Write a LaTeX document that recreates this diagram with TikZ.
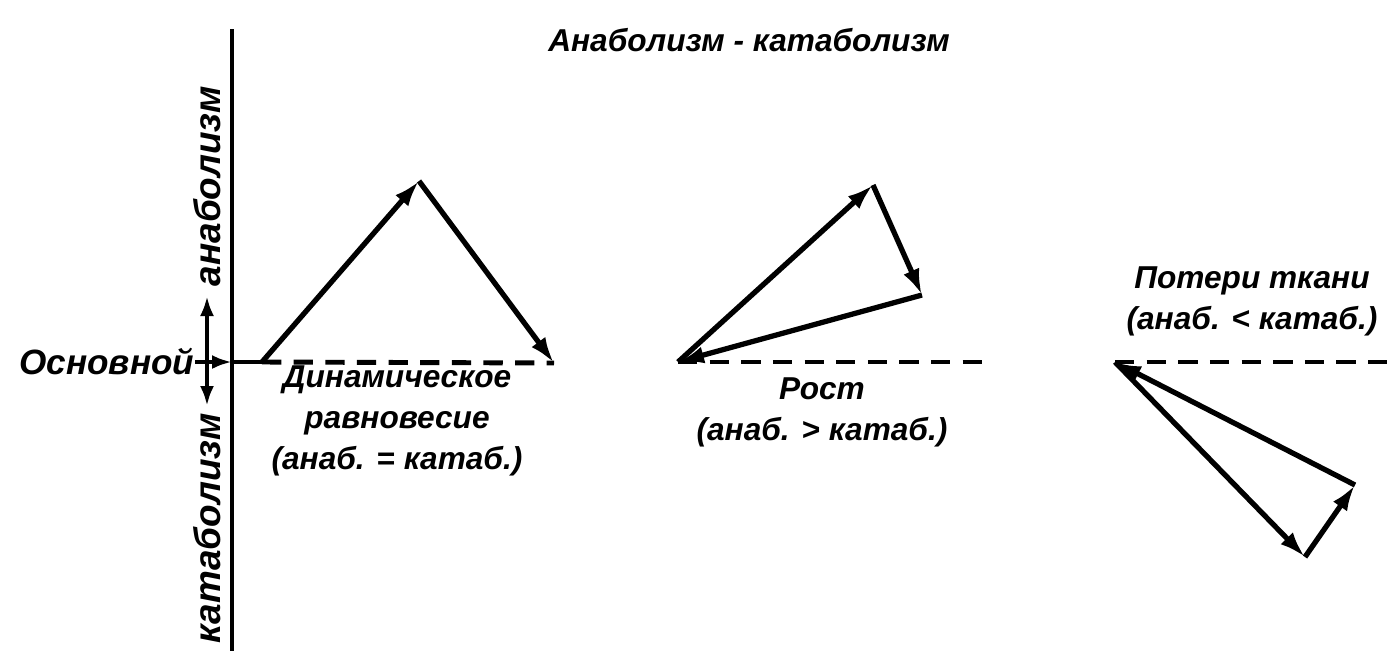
\documentclass[tikz,border=0pt]{standalone}
\usepackage{fontspec}
\newfontfamily\labelfont{Liberation Sans}[FakeStretch=1.0]
\usepackage{tikz}
\usetikzlibrary{
	arrows.meta,
	positioning,
	calc
}

\begin{document}
\begin{tikzpicture}[
				lbl/.style={
					inner sep=0pt, align=center,
					font=\labelfont\bfseries\itshape\fontsize{9}{11.6}\selectfont
				},
				sidelbl/.style={
					lbl, rotate=90,
					font=\labelfont\bfseries\itshape\fontsize{10.5}{12}\selectfont
				},
				vec/.style={-{Latex[length=0.26cm, width=0.17cm]}, line width=1.5pt, black},
				small/.style={-{Latex[length=0.2cm, width=0.14cm]}, line width=1.2pt, black},
				level/.style={line width=1.4pt, dash pattern=on 5.5pt off 3.5pt},
				axis/.style={line width=1pt}
				]
				\useasboundingbox (0,0) rectangle (13.91,6.51);
				
				% title
				\node[lbl] (title) at (7.49,6.11) {Анаболизм - катаболизм};
				
				% axis
				\coordinate (axisTop) at (2.32,6.22);
				\coordinate (axisBottom) at (2.32,0);
				\coordinate (base) at (2.32,2.89);
				\draw[axis] (axisTop) -- (axisBottom);
				
				% basal level
				\node[lbl, anchor=east, font=\labelfont\bfseries\itshape\fontsize{10}{12}\selectfont] (basal) at (1.95,2.89) {Основной};
				\draw[small] (basal) -- (base);
				\coordinate (split) at (2.07,2.89);
				\coordinate (upTip) at (2.07,3.55);
				\coordinate (downTip) at (2.07,2.45);
				\draw[small] (split) -- (upTip);
				\draw[small] (split) -- (downTip);
				\node[sidelbl, anchor=west] (anab) at (2.07,3.64) {анаболизм};
				\node[sidelbl, anchor=east] (katab) at (2.07,2.38) {катаболизм};
				
				% dynamic equilibrium
				\coordinate (dynStart) at (2.62,2.89);
				\coordinate (dynTop) at (4.19,4.70);
				\coordinate (dynEnd) at (5.54,2.88);
				\draw[line width=1.4pt] (base) -- (dynStart);
				\draw[level] (dynStart) -- (dynEnd);
				\draw[vec] (dynStart) -- (dynTop);
				\draw[vec] (dynTop) -- (dynEnd);
				\node[lbl, anchor=north] (dynText) at (3.97,2.86) {Динамическое\\равновесие\\(анаб. = катаб.)};
				
				% growth
				\coordinate (grStart) at (6.78,2.89);
				\coordinate (grTop) at (8.73,4.66);
				\coordinate (grEnd) at (9.22,3.56);
				\coordinate (grLevel) at (9.92,2.89);
				\draw[level] (grStart) -- (grLevel);
				\draw[vec] (grStart) -- (grTop);
				\draw[vec] (grTop) -- (grEnd);
				\draw[vec] (grEnd) -- (grStart);
				\node[lbl, anchor=north] (grText) at (8.22,2.74) {Рост\\(анаб. > катаб.)};
				
				% tissue loss
				\coordinate (lsStart) at (11.15,2.89);
				\coordinate (lsLow) at (13.05,0.94);
				\coordinate (lsEnd) at (13.55,1.66);
				\coordinate (lsLevel) at (13.91,2.89);
				\draw[level] (lsStart) -- (lsLevel);
				\draw[vec] (lsStart) -- (lsLow);
				\draw[vec] (lsLow) -- (lsEnd);
				\draw[vec] (lsEnd) -- (lsStart);
				\node[lbl, anchor=south] (lsText) at (12.52,3.14) {Потери ткани\\(анаб. < катаб.)};
			\end{tikzpicture}
\end{document}
